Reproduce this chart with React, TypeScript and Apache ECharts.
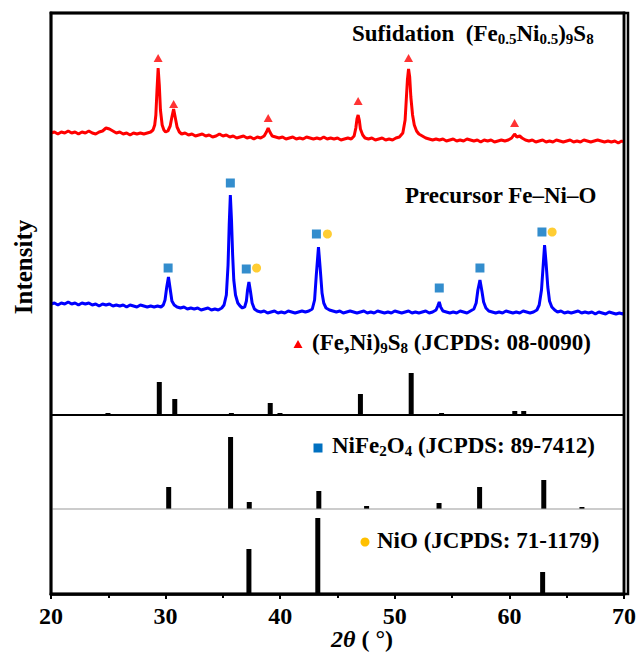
import React, { useEffect, useRef } from "react";
import * as echarts from "echarts";

// ---------- data ----------
const xTicks = [20, 30, 40, 50, 60, 70];

// Sulfidation (Fe0.5Ni0.5)9S8 pattern (2θ, intensity above the top panel's base)
const redPattern: number[][] = [
  [20.0, 282], [20.3, 283], [20.6, 281], [20.9, 283], [21.2, 282], [21.5, 284], [21.8, 282], [22.1, 283],
  [22.4, 281], [22.7, 283], [23.0, 282], [23.3, 284], [23.6, 282], [23.9, 281], [24.2, 283], [24.5, 284],
  [24.8, 287], [25.1, 286], [25.4, 284], [25.7, 282], [26.0, 283], [26.3, 281], [26.6, 282], [26.9, 280],
  [27.2, 282], [27.5, 281], [27.8, 282], [28.1, 281], [28.4, 282], [28.7, 283], [28.9, 285], [29.05, 290],
  [29.15, 300], [29.25, 325], [29.35, 347], [29.45, 330], [29.55, 305], [29.7, 290], [29.85, 285], [30.0, 283],
  [30.2, 284], [30.4, 289], [30.55, 298], [30.7, 306], [30.85, 297], [31.0, 288], [31.2, 283], [31.4, 281],
  [31.7, 282], [32.0, 280], [32.3, 281], [32.6, 279], [32.9, 280], [33.2, 281], [33.5, 279], [33.8, 280],
  [34.1, 278], [34.4, 279], [34.7, 281], [35.0, 279], [35.3, 280], [35.6, 278], [35.9, 279], [36.2, 277],
  [36.5, 278], [36.8, 279], [37.1, 277], [37.4, 278], [37.7, 276], [38.0, 278], [38.3, 277], [38.6, 279],
  [38.8, 283], [38.95, 287], [39.1, 283], [39.3, 279], [39.6, 278], [39.9, 277], [40.2, 278], [40.5, 276],
  [40.8, 277], [41.1, 278], [41.4, 276], [41.7, 277], [42.0, 276], [42.3, 278], [42.6, 277], [42.9, 276],
  [43.2, 277], [43.5, 276], [43.8, 278], [44.1, 276], [44.4, 277], [44.7, 276], [45.0, 277], [45.3, 275],
  [45.6, 276], [45.9, 277], [46.2, 276], [46.45, 279], [46.6, 287], [46.7, 296], [46.8, 300], [46.9, 295],
  [47.0, 286], [47.2, 280], [47.4, 277], [47.7, 276], [48.0, 277], [48.3, 275], [48.6, 276], [48.9, 277],
  [49.2, 275], [49.5, 276], [49.8, 275], [50.1, 277], [50.4, 278], [50.7, 282], [50.9, 295], [51.0, 315],
  [51.1, 335], [51.2, 346], [51.3, 338], [51.4, 318], [51.55, 300], [51.7, 290], [51.9, 284], [52.1, 281],
  [52.4, 279], [52.7, 277], [53.0, 276], [53.3, 275], [53.6, 276], [53.9, 275], [54.2, 276], [54.5, 274],
  [54.8, 275], [55.1, 276], [55.4, 274], [55.7, 275], [56.0, 274], [56.3, 276], [56.6, 275], [56.9, 274],
  [57.2, 275], [57.5, 273], [57.8, 275], [58.1, 274], [58.4, 275], [58.7, 273], [59.0, 274], [59.3, 275],
  [59.6, 274], [59.9, 275], [60.2, 277], [60.45, 281], [60.65, 278], [60.9, 279], [61.1, 277], [61.4, 275],
  [61.7, 274], [62.0, 275], [62.3, 273], [62.6, 274], [62.9, 275], [63.2, 273], [63.5, 274], [63.8, 273],
  [64.1, 275], [64.4, 274], [64.7, 273], [65.0, 274], [65.3, 275], [65.6, 273], [65.9, 274], [66.2, 273],
  [66.5, 275], [66.8, 274], [67.1, 273], [67.4, 274], [67.7, 275], [68.0, 274], [68.3, 273], [68.6, 274],
  [68.9, 273], [69.2, 274], [69.5, 272], [69.8, 274], [70.0, 273],
];

// Precursor Fe–Ni–O pattern (2θ, intensity above the top panel's base)
const bluePattern: number[][] = [
  [20.0, 111], [20.3, 112], [20.6, 110], [20.9, 112], [21.2, 111], [21.5, 113], [21.8, 111], [22.1, 112],
  [22.4, 110], [22.7, 112], [23.0, 111], [23.3, 112], [23.6, 110], [23.9, 111], [24.2, 109], [24.5, 111],
  [24.8, 110], [25.1, 111], [25.4, 109], [25.7, 110], [26.0, 109], [26.3, 110], [26.6, 108], [26.9, 110],
  [27.2, 109], [27.5, 108], [27.8, 110], [28.1, 109], [28.4, 108], [28.7, 109], [29.0, 108], [29.3, 109],
  [29.6, 108], [29.8, 110], [29.95, 115], [30.1, 128], [30.25, 138], [30.4, 126], [30.55, 114], [30.75, 110],
  [31.0, 108], [31.3, 107], [31.6, 108], [31.9, 106], [32.2, 107], [32.5, 106], [32.8, 107], [33.1, 105],
  [33.4, 106], [33.7, 107], [34.0, 105], [34.3, 106], [34.6, 105], [34.9, 107], [35.1, 110], [35.3, 120],
  [35.45, 150], [35.55, 190], [35.65, 220], [35.75, 195], [35.85, 160], [35.95, 135], [36.1, 120], [36.3, 112],
  [36.5, 109], [36.7, 107], [36.9, 108], [37.05, 114], [37.15, 125], [37.27, 133], [37.4, 124], [37.55, 112],
  [37.75, 106], [38.0, 104], [38.3, 103], [38.6, 104], [38.9, 102], [39.2, 103], [39.5, 104], [39.8, 102],
  [40.1, 103], [40.4, 102], [40.7, 104], [41.0, 103], [41.3, 102], [41.6, 103], [41.9, 104], [42.2, 103],
  [42.5, 104], [42.8, 106], [43.0, 115], [43.15, 140], [43.34, 168], [43.5, 145], [43.65, 122], [43.8, 112],
  [44.0, 107], [44.3, 105], [44.6, 104], [44.9, 103], [45.2, 104], [45.5, 102], [45.8, 103], [46.1, 104],
  [46.4, 103], [46.7, 102], [47.0, 103], [47.3, 104], [47.6, 102], [47.9, 103], [48.2, 102], [48.5, 104],
  [48.8, 103], [49.1, 102], [49.4, 103], [49.7, 102], [50.0, 104], [50.3, 103], [50.6, 102], [50.9, 103],
  [51.2, 104], [51.5, 102], [51.8, 103], [52.1, 102], [52.4, 103], [52.7, 104], [53.0, 102], [53.3, 103],
  [53.6, 105], [53.75, 109], [53.88, 113], [54.0, 108], [54.2, 104], [54.5, 103], [54.8, 102], [55.1, 103],
  [55.4, 102], [55.7, 104], [56.0, 103], [56.3, 102], [56.6, 104], [56.9, 106], [57.1, 112], [57.25, 125],
  [57.43, 135], [57.6, 124], [57.75, 113], [57.95, 107], [58.2, 104], [58.5, 103], [58.8, 102], [59.1, 103],
  [59.4, 102], [59.7, 104], [60.0, 103], [60.3, 102], [60.6, 103], [60.9, 102], [61.2, 104], [61.5, 103],
  [61.8, 102], [62.1, 103], [62.4, 105], [62.6, 110], [62.8, 125], [62.95, 150], [63.07, 170], [63.2, 152],
  [63.35, 128], [63.5, 114], [63.7, 108], [63.95, 105], [64.2, 103], [64.5, 104], [64.8, 102], [65.1, 103],
  [65.4, 102], [65.7, 103], [66.0, 104], [66.3, 102], [66.6, 103], [66.9, 102], [67.2, 103], [67.5, 101],
  [67.8, 103], [68.1, 102], [68.4, 101], [68.7, 103], [69.0, 102], [69.3, 101], [69.6, 102], [69.9, 101],
  [70.0, 102],
];

// peak markers (same base as the patterns)
const sulfideMarks: number[][] = [[29.35, 357], [30.7, 311], [38.95, 297], [46.8, 314], [51.2, 357], [60.45, 292]];
const ferriteMarks: number[][] = [[30.22, 147], [35.65, 232], [37.04, 146], [43.16, 181], [53.88, 127], [57.43, 147], [62.84, 183]];
const nioMarks: number[][] = [[37.94, 147], [44.12, 181], [63.73, 183]];

// reference sticks (2θ, relative height)
const sulfideRef: number[][] = [[24.97, 2], [29.45, 33], [30.8, 16], [35.74, 2], [39.13, 12], [39.98, 2], [47.0, 21], [51.43, 42], [54.08, 2], [60.47, 4], [61.25, 4]];
const ferriteRef: number[][] = [[30.27, 22], [35.67, 72], [37.3, 7], [43.37, 18], [47.54, 3], [53.86, 6], [57.4, 22], [63.0, 29], [66.33, 2]];
const nioRef: number[][] = [[37.27, 45], [43.28, 76], [62.9, 22]];

const X_MIN = 20, X_MAX = 70;
const FONT = "'Liberation Serif', 'Times New Roman', serif";

export default function App() {
  const ref = useRef<HTMLDivElement>(null);
  useEffect(() => {
    if (!ref.current) return;
    const chart = echarts.init(ref.current, null, { renderer: "svg" });
    const L = 51, W = 577, TOP = 13, BOTTOM = 594;
    const H = BOTTOM - TOP;           // shared value scale of the stacked panels
    const BASE_TOP = 179;             // base of the upper panel
    const BASE_MID = 85;              // base of the middle panel
    const BASE_LOW = 0;
    const main = { fontFamily: FONT, fontWeight: "bold" as const, fontSize: 23, color: "#000", lineHeight: 26 };
    const sub = { fontFamily: FONT, fontWeight: "bold" as const, fontSize: 15, color: "#000", lineHeight: 13, verticalAlign: "bottom" as const };
    const rich = { a: main, s: sub };
    const hidden = { show: false };
    const shift = (arr: number[][], b: number) => arr.map(([x, y]) => [x, y + b]);

    const stickItem = (base: number) => (_p: any, api: any) => {
      const x = api.value(0), h = api.value(1);
      const p0 = api.coord([x, base]);
      const p1 = api.coord([x, base + h]);
      return { type: "rect", shape: { x: p0[0] - 2.5, y: p1[1], width: 5, height: p0[1] - p1[1] }, style: { fill: "#000" } };
    };
    const dividerItem = (_p: any, api: any) => {
      const a = api.coord([X_MIN, api.value(0)]);
      const b = api.coord([X_MAX, api.value(0)]);
      const gray = api.value(1) === 1;
      const t = gray ? 1.2 : 2;
      return { type: "rect", shape: { x: a[0], y: a[1] - t / 2, width: b[0] - a[0], height: t }, style: { fill: gray ? "#999" : "#000" } };
    };
    const frameItem = (_p: any, api: any) => {
      const tl = api.coord([X_MIN, H]);
      const br = api.coord([X_MAX, 0]);
      const t = 2.5, h = t / 2;
      const st = { fill: "#000" };
      return {
        type: "group",
        children: [
          { type: "rect", shape: { x: tl[0] - h, y: tl[1] - h, width: br[0] - tl[0] + t, height: t }, style: st },
          { type: "rect", shape: { x: tl[0] - h, y: tl[1] - h, width: t, height: br[1] - tl[1] + t }, style: st },
          { type: "rect", shape: { x: br[0] - h, y: tl[1] - h, width: t, height: br[1] - tl[1] + t }, style: st },
          { type: "rect", shape: { x: tl[0] - h, y: br[1] - h, width: br[0] - tl[0] + t, height: t }, style: st },
        ],
      };
    };

    const option: any = {
      animation: false,
      backgroundColor: "#fff",
      grid: [{ left: L, top: TOP, width: W, height: H, show: true, borderColor: "#000", borderWidth: 2.5, backgroundColor: "rgba(0,0,0,0)" }],
      xAxis: [
        {
          type: "value", min: X_MIN, max: X_MAX, interval: 10, position: "bottom",
          axisLine: { show: true, onZero: false, lineStyle: { color: "#000", width: 2.5 } },
          axisTick: { show: true, length: 5, lineStyle: { color: "#000", width: 2 } },
          minorTick: { show: true, splitNumber: 2, length: 4, lineStyle: { color: "#000", width: 2 } },
          axisLabel: {
            margin: 10, fontFamily: FONT, fontWeight: "bold", fontSize: 24, color: "#000",
            formatter: (v: number) => (xTicks.includes(v) ? String(v) : ""),
          },
          splitLine: hidden,
        },
      ],
      yAxis: [{ type: "value", min: 0, max: H, show: false }],
      series: [
        {
          type: "line", data: shift(redPattern, BASE_TOP), showSymbol: false,
          lineStyle: { color: "#ff0000", width: 3 }, itemStyle: { color: "#ff0000" },
        },
        {
          type: "line", data: shift(bluePattern, BASE_TOP), showSymbol: false,
          lineStyle: { color: "#0000ff", width: 3 }, itemStyle: { color: "#0000ff" },
        },
        { type: "custom", data: sulfideRef, renderItem: stickItem(BASE_TOP), silent: true },
        { type: "custom", data: ferriteRef, renderItem: stickItem(BASE_MID), silent: true },
        { type: "custom", data: nioRef, renderItem: stickItem(BASE_LOW), silent: true },
        { type: "custom", data: [[BASE_TOP, 0], [BASE_MID, 1]], renderItem: dividerItem, silent: true, z: 5 },
        { type: "custom", data: [[X_MIN, 0]], renderItem: frameItem, silent: true, clip: false, z: 100 },
        { type: "scatter", data: shift(sulfideMarks, BASE_TOP), symbol: "triangle", symbolSize: [9, 8], itemStyle: { color: "#ff0000" } },
        { type: "scatter", data: shift(ferriteMarks, BASE_TOP), symbol: "rect", symbolSize: 9, itemStyle: { color: "#0070c0" } },
        { type: "scatter", data: shift(nioMarks, BASE_TOP), symbol: "circle", symbolSize: 9, itemStyle: { color: "#ffc000" } },
      ],
      graphic: [
        {
          type: "rect", z: 100, silent: true,
          shape: { x: L, y: TOP, width: W, height: H },
          style: { fill: "none", stroke: "#000", lineWidth: 2.5 },
        },
        {
          type: "text", left: 352, top: 22,
          style: { text: "{a|Sufidation  (Fe}{s|0.5}{a|Ni}{s|0.5}{a|)}{s|9}{a|S}{s|8}", rich },
        },
        {
          type: "text", left: 405, top: 184,
          style: { text: "Precursor Fe\u2013Ni\u2013O", fontFamily: FONT, fontWeight: "bold", fontSize: 23, fill: "#000" },
        },
        { type: "polygon", shape: { points: [[293.5, 348], [302.5, 348], [298, 340]] }, style: { fill: "#ff0000" } },
        {
          type: "text", left: 312, top: 331,
          style: { text: "{a|(Fe,Ni)}{s|9}{a|S}{s|8}{a| (JCPDS: 08-0090)}", rich },
        },
        { type: "rect", shape: { x: 313.5, y: 443.5, width: 9, height: 9 }, style: { fill: "#0070c0" } },
        {
          type: "text", left: 332, top: 434,
          style: { text: "{a|NiFe}{s|2}{a|O}{s|4}{a| (JCPDS: 89-7412)}", rich },
        },
        { type: "circle", shape: { cx: 365, cy: 542, r: 4.5 }, style: { fill: "#ffc000" } },
        {
          type: "text", left: 377, top: 529,
          style: { text: "NiO (JCPDS: 71-1179)", fontFamily: FONT, fontWeight: "bold", fontSize: 23, fill: "#000" },
        },
        {
          type: "text", x: 23, y: 267, rotation: Math.PI / 2,
          style: { text: "Intensity", fontFamily: FONT, fontWeight: "bold", fontSize: 25, fill: "#000", align: "center", verticalAlign: "middle" },
        },
        {
          type: "text", left: 331, top: 627,
          style: {
            text: "{i|2\u03b8}{n| ( \u00b0)}",
            rich: {
              i: { fontFamily: FONT, fontWeight: "bold", fontStyle: "italic", fontSize: 24, color: "#000" },
              n: { fontFamily: FONT, fontWeight: "bold", fontSize: 24, color: "#000" },
            },
          },
        },
      ],
    };
    chart.setOption(option);
    return () => chart.dispose();
  }, []);
  return <div ref={ref} style={{ position: "absolute", left: 0, top: 0, width: 639, height: 653 }} />;
}
